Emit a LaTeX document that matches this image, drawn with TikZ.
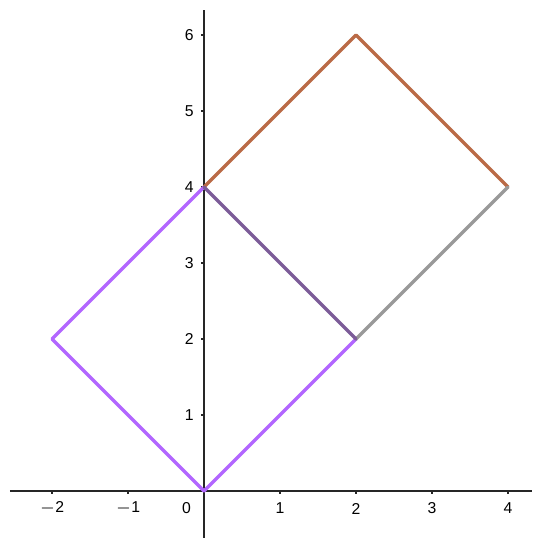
\documentclass[tikz,border=0pt]{standalone}
\usepackage{fontspec}
\setmainfont{Liberation Sans}
\definecolor{vio}{RGB}{178,102,255}
\definecolor{dvio}{RGB}{124,92,152}
\definecolor{brn}{RGB}{186,106,70}
\definecolor{gry}{RGB}{153,153,153}
\begin{document}
\begin{tikzpicture}[x=1cm,y=1cm,
  axis/.style={line width=0.65pt,black!85},
  tk/.style={line width=0.65pt,black!85},
  edge/.style={line width=1.3pt,line cap=round,line join=round},
  lab/.style={font=\fontsize{5.9}{6.5}\selectfont,inner sep=0pt}]
\useasboundingbox (-2.684,-0.618) rectangle (4.316,6.461);
% axes
\coordinate (xl) at (-2.553,0);
\coordinate (xr) at (4.316,0);
\coordinate (yb) at (0,-0.618);
\coordinate (yt) at (0,6.33);
\draw[axis] (xl) -- (xr);
\draw[axis] (yb) -- (yt);
\foreach \i/\t in {-2/$-$2,-1/$-$1,1/1,2/2,3/3,4/4}{
  \draw[tk] (\i,0) -- (\i,-0.045);
  \node[lab] at (\i,-0.23) {\t};
}
\node[lab] at (-0.23,-0.23) {0};
\foreach \j in {1,...,6}{
  \draw[tk] (0,\j) -- (-0.045,\j);
  \node[lab,anchor=east] at (-0.13,\j) {\j};
}
% vertices
\coordinate (O) at (0,0);
\coordinate (A) at (2,2);
\coordinate (B) at (0,4);
\coordinate (C) at (-2,2);
\coordinate (D) at (2,6);
\coordinate (E) at (4,4);
% edges
\draw[edge,vio] (B) -- (C) -- (O) -- (A);
\draw[edge,brn] (B) -- (D) -- (E);
\draw[edge,gry] (E) -- (A);
\draw[edge,dvio] (A) -- (B);
\end{tikzpicture}
\end{document}
